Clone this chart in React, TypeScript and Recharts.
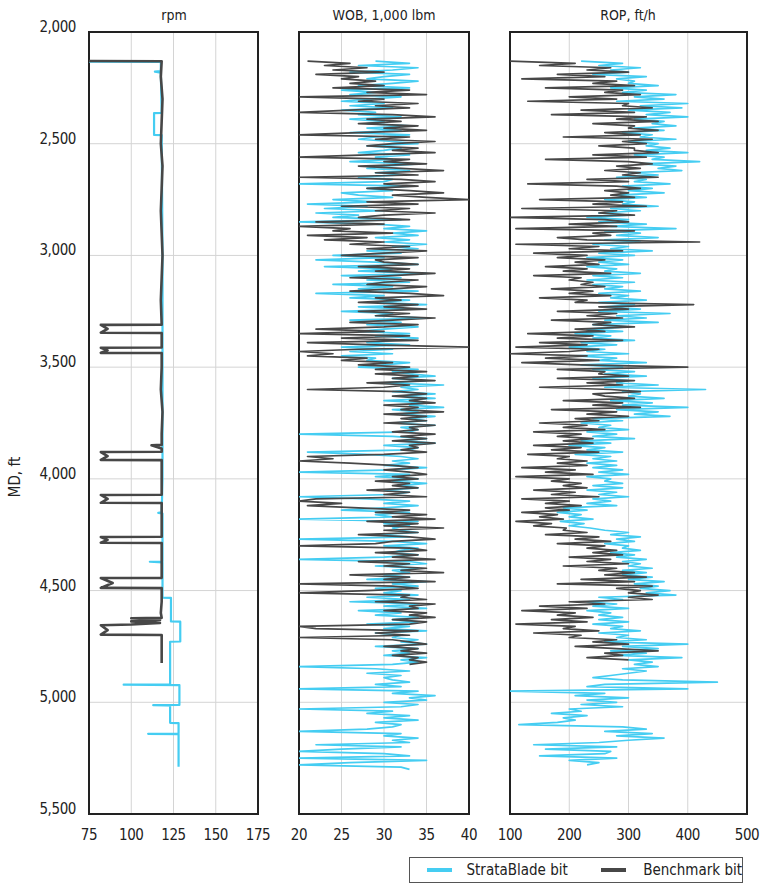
import React from 'react';
import { LineChart, Line, XAxis, YAxis, CartesianGrid, ReferenceArea } from 'recharts';

// depth axis (MD, ft)
const mdTicks = [2000, 2500, 3000, 3500, 4000, 4500, 5000, 5500];
const STEP = 10;

// rpm tracks: explicit depth / value pairs
const rpmBenchMd = [2130, 2131, 2200, 2300, 2400, 2500, 2600, 2700, 2800, 2900, 3000, 3100, 3200, 3310, 3311, 3329, 3346, 3347, 3412, 3413, 3425, 3436, 3437, 3500, 3600, 3700, 3800, 3848, 3850, 3862, 3864, 3879, 3880, 3898, 3915, 3916, 4000, 4071, 4072, 4090, 4107, 4108, 4200, 4259, 4260, 4273, 4286, 4287, 4400, 4443, 4444, 4466, 4488, 4489, 4550, 4600, 4622, 4624, 4632, 4638, 4645, 4652, 4655, 4677, 4697, 4699, 4760, 4824];
const rpmBenchVal = [75, 118, 117.5, 118.5, 118, 117.5, 118.5, 118, 117.5, 118, 118.5, 118, 117.5, 118, 82, 86, 82, 118, 118, 82, 86, 82, 118, 118, 117.5, 118.5, 118, 118, 112, 117, 118, 118, 82, 86, 82, 118, 118, 118, 82, 86, 82, 118, 118, 118, 82, 86, 82, 118, 118, 118, 82, 89, 82, 118, 118, 117.5, 118, 100, 117, 100, 117, 100, 82, 86, 82, 118, 118, 118];

const rpmStrataMd = [2133, 2134, 2175, 2177, 2182, 2362, 2363, 2461, 2462, 3000, 3500, 4000, 4150, 4152, 4155, 4370, 4371, 4374, 4532, 4533, 4638, 4639, 4728, 4729, 4920, 4921, 4923, 5012, 5013, 5015, 5092, 5093, 5140, 5141, 5143, 5288];
const rpmStrataVal = [75, 117.5, 117.5, 114, 117.5, 118, 113.5, 113.5, 118, 118.5, 118.5, 118.5, 118, 116, 118.5, 118.5, 111, 118.5, 118.5, 123.5, 123.5, 129, 129, 123, 123, 95.5, 128.5, 128.5, 113, 123, 123, 128, 128, 110, 128, 128];

// WOB, 1,000 lbm — one reading every 10 ft
const wobBenchStart = 2130;
const wobBench = [
  21, 26, 23, 28, 24, 30, 22, 27, 25, 29,
  26, 30, 24, 33, 28, 35, 20, 30, 27, 34,
  29, 33, 26, 20, 31, 36, 28, 32, 27, 34,
  30, 35, 27, 20, 33, 29, 36, 31, 28, 34,
  31, 36, 28, 20, 33, 30, 35, 27, 32, 37,
  29, 34, 20, 32, 36, 30, 34, 28, 33, 37,
  31, 35, 40, 28, 34, 25, 33, 29, 36, 30,
  27, 33, 22, 30, 20, 26, 24, 31, 21, 28,
  23, 30, 26, 33, 28, 35, 30, 25, 34, 29,
  30, 34, 27, 33, 29, 36, 31, 26, 34, 30,
  28, 35, 31, 26, 33, 37, 29, 32, 27, 34,
  30, 35, 27, 33, 29, 36, 31, 26, 34, 30,
  22, 30, 20, 33, 25, 34, 21, 29, 40, 27,
  20, 24, 21, 28, 25, 31, 27, 33, 29, 35,
  29, 34, 31, 36, 28, 33, 30, 21, 32, 35,
  31, 35, 33, 36, 30, 34, 32, 37, 30, 35,
  32, 35, 30, 36, 33, 34, 31, 36, 32, 35,
  31, 36, 33, 34, 32, 35, 30, 21, 24, 20,
  26, 31, 34, 30, 33, 35, 31, 34, 29, 33,
  31, 34, 28, 33, 30, 35, 22, 20, 25, 21,
  27, 33, 29, 35, 31, 36, 28, 34, 30, 37,
  30, 34, 27, 33, 36, 31, 29, 20, 33, 35,
  29, 34, 31, 36, 27, 33, 30, 35, 32, 37,
  26, 33, 30, 36, 20, 31, 34, 28, 20, 33,
  32, 35, 29, 36, 33, 34, 30, 35, 33, 36,
  31, 35, 33, 20, 22, 34, 29, 33, 20, 31,
  33, 35, 30, 34, 32, 35, 31, 34, 33, 35,
  33,
];

const wobStrataStart = 2130;
const wobStrata = [
  29, 33, 27, 34, 31, 26, 33, 30, 28, 34,
  31, 27, 33, 25, 29, 26, 32, 28, 25, 30,
  26, 31, 25, 29, 27, 32, 26, 30, 28, 33,
  28, 32, 26, 33, 29, 27, 31, 34, 28, 32,
  30, 27, 33, 29, 31, 26, 34, 30, 28, 33,
  29, 32, 27, 31, 30, 20, 33, 28, 31, 25,
  27, 31, 24, 29, 21, 28, 23, 30, 22, 27,
  24, 32, 20, 29, 33, 30, 35, 31, 34, 29,
  33, 30, 35, 31, 34, 28, 32, 24, 30, 22,
  29, 34, 23, 31, 27, 35, 25, 32, 28, 33,
  24, 31, 27, 34, 22, 30, 26, 33, 29, 35,
  27, 33, 25, 31, 29, 35, 26, 32, 28, 34,
  30, 27, 33, 29, 34, 31, 28, 33, 25, 31,
  26, 31, 25, 29, 28, 33, 30, 27, 34, 31,
  33, 36, 31, 35, 30, 37, 32, 34, 31, 36,
  32, 36, 30, 35, 33, 37, 31, 34, 32, 36,
  33, 35, 31, 36, 32, 34, 33, 20, 31, 35,
  32, 36, 30, 34, 33, 21, 28, 32, 34, 31,
  33, 30, 35, 31, 20, 33, 29, 34, 31, 35,
  32, 34, 30, 33, 31, 20, 28, 33, 30, 34,
  30, 25, 33, 29, 31, 20, 34, 30, 33, 31,
  32, 34, 29, 33, 20, 31, 35, 30, 34, 32,
  31, 34, 30, 20, 33, 35, 29, 34, 31, 33,
  30, 33, 28, 35, 31, 34, 29, 32, 30, 34,
  28, 33, 26, 34, 30, 35, 27, 32, 29, 34,
  31, 34, 28, 33, 30, 35, 29, 32, 31, 34,
  32, 35, 29, 34, 31, 33, 30, 35, 32, 34,
  31, 20, 29, 33, 28, 32, 30, 31, 33, 29,
  32, 20, 34, 31, 36, 33, 35, 30, 34, 32,
  20, 31, 28, 33, 30, 34, 29, 32, 31, 28,
  20, 32, 30, 34, 31, 33, 22, 32, 25, 20,
  30, 33, 20, 35, 26, 20, 32, 33,
];

// ROP, ft/h — one reading every 10 ft
const ropBenchStart = 2130;
const ropBench = [
  100, 210, 150, 270, 230, 300, 180, 260, 120, 280,
  240, 310, 160, 290, 260, 320, 200, 280, 130, 300,
  290, 340, 220, 310, 170, 330, 280, 350, 240, 310,
  300, 350, 260, 320, 190, 340, 290, 330, 250, 310,
  310, 350, 240, 330, 160, 300, 340, 280, 320, 260,
  320, 290, 350, 230, 300, 130, 280, 320, 260, 300,
  270, 310, 150, 290, 240, 330, 120, 280, 250, 310,
  100, 260, 300, 200, 280, 110, 310, 240, 270, 180,
  230, 420, 110, 250, 200, 290, 140, 230, 180, 260,
  210, 250, 160, 230, 190, 270, 140, 220, 200, 240,
  220, 260, 170, 240, 200, 270, 150, 230, 210, 410,
  250, 300, 180, 280, 230, 290, 170, 270, 240, 310,
  210, 260, 130, 240, 180, 290, 150, 230, 110, 250,
  200, 100, 230, 160, 250, 120, 220, 400, 180, 260,
  250, 300, 180, 310, 230, 290, 150, 270, 320, 240,
  260, 310, 190, 290, 240, 320, 170, 280, 230, 300,
  210, 250, 150, 230, 190, 260, 140, 220, 180, 240,
  190, 240, 140, 220, 170, 250, 130, 200, 180, 230,
  180, 230, 120, 210, 160, 240, 110, 200, 170, 220,
  190, 230, 140, 210, 170, 250, 120, 200, 160, 220,
  160, 200, 120, 180, 150, 190, 110, 170, 140, 195,
  190, 230, 160, 250, 210, 270, 180, 260, 230, 280,
  240, 290, 200, 270, 230, 300, 190, 280, 250, 310,
  260, 330, 220, 310, 180, 340, 280, 320, 300, 350,
  300, 340, 200, 260, 150, 230, 120, 210, 180, 240,
  170, 230, 110, 210, 190, 250, 140, 220, 200, 280,
  240, 300, 210, 280, 350, 260, 290, 230, 300,
];

const ropStrataStart = 2130;
const ropStrata = [
  220, 290, 250, 320, 270, 300, 240, 330, 280, 310,
  300, 350, 270, 330, 290, 380, 310, 360, 280, 400,
  320, 390, 300, 370, 330, 400, 310, 360, 340, 380,
  310, 360, 290, 340, 320, 380, 300, 350, 330, 370,
  330, 400, 310, 360, 340, 420, 320, 380, 350, 390,
  300, 350, 280, 330, 310, 370, 290, 340, 300, 360,
  280, 330, 260, 310, 290, 350, 270, 320, 250, 300,
  230, 300, 250, 330, 270, 380, 260, 320, 280, 350,
  260, 320, 240, 300, 270, 340, 250, 310, 230, 290,
  250, 300, 230, 280, 260, 320, 240, 290, 230, 310,
  240, 290, 260, 320, 250, 300, 270, 330, 250, 310,
  260, 320, 250, 370, 280, 330, 260, 350, 240, 300,
  230, 290, 210, 270, 240, 310, 220, 280, 200, 260,
  230, 300, 210, 280, 250, 330, 220, 290, 240, 310,
  260, 330, 240, 300, 280, 350, 260, 430, 290, 320,
  300, 360, 270, 340, 290, 400, 280, 350, 310, 370,
  240, 290, 220, 270, 250, 300, 230, 280, 240, 310,
  220, 270, 200, 260, 230, 290, 210, 270, 240, 280,
  230, 280, 240, 290, 250, 300, 230, 270, 260, 290,
  240, 290, 230, 280, 250, 300, 240, 270, 230, 280,
  190, 230, 180, 220, 200, 240, 185, 225, 200, 235,
  260, 300, 270, 320, 280, 310, 260, 300, 290, 320,
  270, 310, 280, 330, 290, 320, 300, 340, 290, 330,
  290, 340, 300, 360, 310, 350, 320, 370, 330, 380,
  250, 290, 230, 280, 240, 300, 230, 270, 250, 290,
  250, 300, 240, 290, 270, 320, 250, 300, 280, 330,
  260, 400, 290, 350, 270, 330, 280, 390, 300, 340,
  310, 350, 290, 330, 300, 270, 240, 290, 450, 260,
  230, 400, 100, 260, 210, 300, 230, 280, 220, 290,
  200, 220, 170, 230, 190, 210, 180, 115, 290, 330,
  260, 340, 280, 360, 300, 250, 140, 280, 160, 270,
  260, 150, 280, 200, 250, 230,
];

const rpmTicks = [75, 100, 125, 150, 175];
const wobTicks = [20, 25, 30, 35, 40];
const ropTicks = [100, 200, 300, 400, 500];

const BLUE = '#45cdf2';
const DARK = '#474747';
const FONT = '"DejaVu Sans Condensed", "Liberation Sans Narrow", Arial, sans-serif';

type Pt = { md: number; v: number };

const fromPairs = (md: number[], vals: number[]): Pt[] => md.map((d, i) => ({ md: d, v: vals[i] }));
const fromSteps = (start: number, vals: number[]): Pt[] => vals.map((v, i) => ({ md: start + i * STEP, v }));

const MdTick = ({ x, y, payload }: any) => (
  <text x={x} y={y - 5} textAnchor="end" dominantBaseline="central" fill="#222" fontSize={15} fontFamily={FONT} letterSpacing={-0.4}>
    {payload.value.toLocaleString('en-US')}
  </text>
);

interface TrackProps {
  left: number;
  width: number;
  mLeft: number;
  mRight: number;
  ticks: number[];
  blue: Pt[];
  dark: Pt[];
  showMd?: boolean;
  blueWidth: number;
  darkWidth: number;
}

const Track: React.FC<TrackProps> = ({ left, width, mLeft, mRight, ticks, blue, dark, showMd, blueWidth, darkWidth }) => {
  const domain: [number, number] = [ticks[0], ticks[ticks.length - 1]];
  return (
    <div style={{ position: 'absolute', left, top: 0 }}>
      <LineChart width={width} height={850} layout="vertical" margin={{ top: 32, right: mRight, bottom: 0, left: mLeft }}>
        <CartesianGrid stroke="#d4d4d4" strokeWidth={1} />
        <XAxis
          type="number"
          domain={domain}
          ticks={ticks}
          interval={0}
          height={36}
          tickLine={false}
          axisLine={false}
          tickSize={0}
          tickMargin={15}
          tick={{ fill: '#222', fontSize: 15, fontFamily: FONT, letterSpacing: -0.4 }}
          allowDataOverflow
        />
        <YAxis
          type="number"
          dataKey="md"
          domain={[2000, 5500]}
          ticks={mdTicks}
          interval={0}
          hide={!showMd}
          width={showMd ? 89 : 0}
          tickLine={false}
          axisLine={false}
          tickSize={0}
          tickMargin={13}
          tick={<MdTick />}
          allowDataOverflow
        />
        <Line data={blue} dataKey="v" stroke={BLUE} strokeWidth={blueWidth} dot={false} isAnimationActive={false} strokeLinejoin="round" />
        <Line data={dark} dataKey="v" stroke={DARK} strokeWidth={darkWidth} dot={false} isAnimationActive={false} strokeLinejoin="round" />
        <ReferenceArea x1={domain[0]} x2={domain[1]} y1={2000} y2={5500} fill="none" stroke="#222" strokeWidth={2} ifOverflow="visible" />
      </LineChart>
    </div>
  );
};

const titleStyle: React.CSSProperties = {
  position: 'absolute',
  top: 7,
  fontFamily: FONT,
  fontSize: 14,
  color: '#222',
  transform: 'translateX(-50%)',
  whiteSpace: 'nowrap',
};

export default function App() {
  return (
    <div style={{ position: 'absolute', left: 0, top: 0, width: 768, height: 890, background: '#fff', fontFamily: FONT }}>
      <div style={{ ...titleStyle, left: 174 }}>rpm</div>
      <div style={{ ...titleStyle, left: 384 }}>WOB, 1,000 lbm</div>
      <div style={{ ...titleStyle, left: 628 }}>ROP, ft/h</div>
      <div
        style={{
          position: 'absolute',
          left: 15,
          top: 477,
          transform: 'translate(-50%, -50%) rotate(-90deg)',
          fontSize: 15,
          color: '#222',
          whiteSpace: 'nowrap',
        }}
      >
        MD, ft
      </div>

      <Track left={0} width={275} mLeft={0} mRight={17} ticks={rpmTicks} blue={fromPairs(rpmStrataMd, rpmStrataVal)} dark={fromPairs(rpmBenchMd, rpmBenchVal)} showMd blueWidth={2.2} darkWidth={2.6} />
      <Track left={285} width={200} mLeft={14} mRight={16} ticks={wobTicks} blue={fromSteps(wobStrataStart, wobStrata)} dark={fromSteps(wobBenchStart, wobBench)} blueWidth={1.7} darkWidth={1.7} />
      <Track left={495} width={273} mLeft={15} mRight={21} ticks={ropTicks} blue={fromSteps(ropStrataStart, ropStrata)} dark={fromSteps(ropBenchStart, ropBench)} blueWidth={1.7} darkWidth={1.7} />

      <div
        style={{
          position: 'absolute',
          left: 409,
          top: 857,
          width: 334,
          height: 26,
          boxSizing: 'border-box',
          border: '1px solid #555',
          display: 'flex',
          alignItems: 'center',
          fontSize: 15,
          color: '#222',
          whiteSpace: 'nowrap',
        }}
      >
        <span style={{ display: 'inline-block', width: 26, height: 4, background: BLUE, marginLeft: 17 }} />
        <span style={{ marginLeft: 15 }}>StrataBlade bit</span>
        <span style={{ display: 'inline-block', width: 27, height: 4, background: DARK, marginLeft: 33 }} />
        <span style={{ marginLeft: 17 }}>Benchmark bit</span>
      </div>
    </div>
  );
}
